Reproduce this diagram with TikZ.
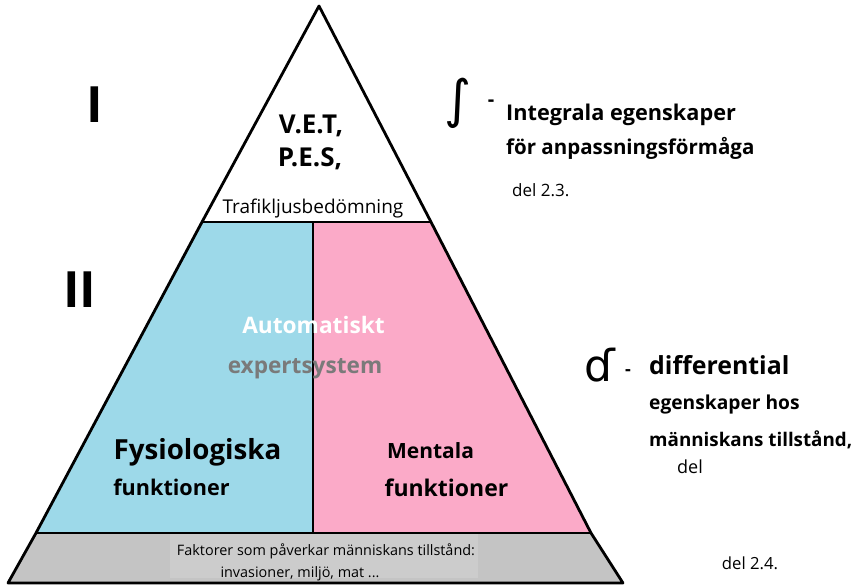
\documentclass[tikz,border=0pt]{standalone}
\usepackage{fontspec}
\setmainfont{Open Sans}
\newfontfamily\symfont{DejaVu Sans}
\definecolor{pblue}{HTML}{9DD9E9}
\definecolor{ppink}{HTML}{FBAAC8}
\definecolor{pgray}{HTML}{C4C4C4}
\definecolor{pgraylight}{HTML}{CCCCCC}
\definecolor{tgray}{HTML}{7A7A7A}
\begin{document}
\begin{tikzpicture}[x=1pt,y=-1pt,
  outl/.style={line width=2.8pt,line join=round},
  bt/.style={font=\bfseries,inner sep=0pt},
  rt/.style={inner sep=0pt}]
\useasboundingbox (0,0) rectangle (855,585);
\fill[white] (0,0) rectangle (855,585);
% coordinates of pyramid
\coordinate (apex) at (319,6);
\coordinate (tl) at (202,222);
\coordinate (tr) at (431,222);
\coordinate (ml) at (36,533);
\coordinate (mr) at (591,533);
\coordinate (bl) at (8,583);
\coordinate (br) at (623,583);
\coordinate (dtop) at (313,222);
\coordinate (dbot) at (313,533);
% fills
\fill[pblue] (tl) -- (dtop) -- (dbot) -- (ml) -- cycle;
\fill[ppink] (dtop) -- (tr) -- (mr) -- (dbot) -- cycle;
\fill[pgray] (ml) -- (mr) -- (br) -- (bl) -- cycle;
\fill[pgraylight] (170,534) rectangle (478,578);
% outlines
\draw[outl] (apex) -- (tr) -- (mr) -- (br) -- (bl) -- (ml) -- (tl) -- cycle;
\draw[outl] (tl) -- (tr);
\draw[outl] (ml) -- (mr);
\draw[outl] (dtop) -- (dbot);
% top texts
\node[bt,font=\fontsize{26}{30}\bfseries\selectfont] (vet) at (311,126) {V.E.T,};
\node[bt,font=\fontsize{26}{30}\bfseries\selectfont] (pes) at (310,159) {P.E.S,};
\node[rt,font=\fontsize{19}{22}\selectfont] (traf) at (313,209) {Trafikljusbedömning};
% roman numerals
\node[bt,font=\fontsize{50}{52}\bfseries\selectfont] (one) at (95,105) {I};
\node[bt,font=\fontsize{50}{52}\bfseries\selectfont] (two) at (80,290) {II};
% middle texts
\node[bt,text=white,font=\fontsize{22.7}{26}\bfseries\selectfont] (auto) at (313.5,325) {Automatiskt};
\node[bt,text=tgray,font=\fontsize{22.6}{26}\bfseries\selectfont] (exp) at (305,369) {expertsystem};
\node[bt,font=\fontsize{27.7}{32}\bfseries\selectfont] (fys) at (197.5,452) {Fysiologiska};
\node[bt,font=\fontsize{21.6}{25}\bfseries\selectfont] (fysf) at (171.5,487) {funktioner};
\node[bt,font=\fontsize{21}{25}\bfseries\selectfont] (ment) at (430.5,451) {Mentala};
\node[bt,font=\fontsize{23}{27}\bfseries\selectfont] (mentf) at (446.5,488) {funktioner};
% bottom band texts
\node[rt,font=\fontsize{14.4}{17}\selectfont] (fakt) at (326,551) {Faktorer som påverkar människans tillstånd:};
\node[rt,font=\fontsize{14.4}{17}\selectfont] (inv) at (300,574) {invasioner, miljö, mat ...};
% right top
\node[rt,font=\fontsize{52}{56}\symfont\selectfont] (intg) at (458,103) {∫};
\node[bt,font=\fontsize{20}{24}\bfseries\selectfont] (dash1) at (491,103) {-};
\node[bt,anchor=west,font=\fontsize{21.7}{25}\bfseries\selectfont] (integ) at (506,115) {Integrala egenskaper};
\node[bt,anchor=west,font=\fontsize{20.5}{24}\bfseries\selectfont] (anp) at (506,148) {för anpassningsförmåga};
\node[rt,anchor=west,font=\fontsize{17}{20}\selectfont] (del23) at (512,190) {del 2.3.};
% right middle
\node[rt,font=\fontsize{44}{48}\symfont\selectfont] (dd) at (600,365) {ɗ};
\node[bt,font=\fontsize{18}{22}\bfseries\selectfont] (dash2) at (628,373) {-};
\node[bt,anchor=west,font=\fontsize{24.9}{29}\bfseries\selectfont] (diff) at (649,365) {differential};
\node[bt,anchor=west,font=\fontsize{19.2}{23}\bfseries\selectfont] (egen) at (649,405) {egenskaper hos};
\node[bt,anchor=west,font=\fontsize{18.8}{22}\bfseries\selectfont] (mann) at (649,440) {människans tillstånd,};
\node[rt,anchor=west,font=\fontsize{18}{21}\selectfont] (del) at (677,467) {del};
\node[rt,font=\fontsize{16.7}{20}\selectfont] (del24) at (750,563) {del 2.4.};
\end{tikzpicture}
\end{document}
